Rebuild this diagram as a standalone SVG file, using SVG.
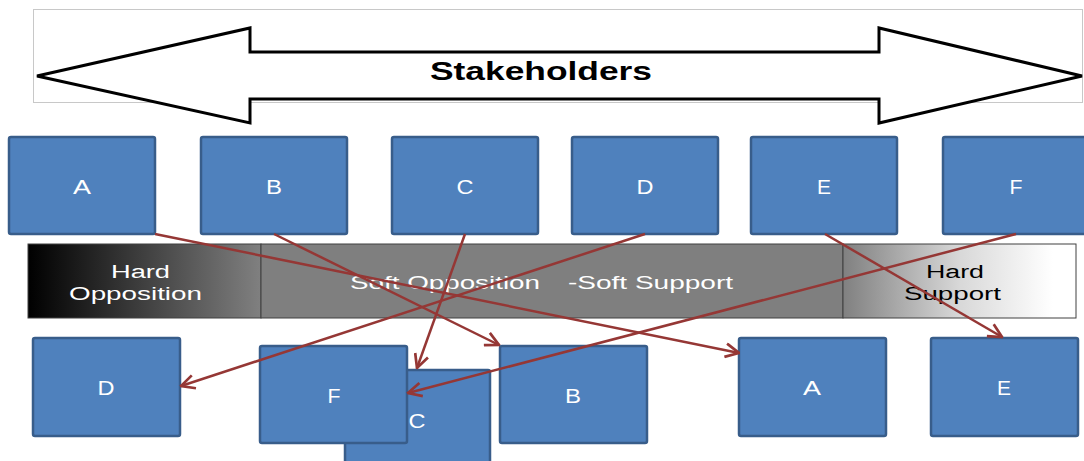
<svg xmlns="http://www.w3.org/2000/svg" width="1084" height="461" viewBox="0 0 1084 461">
<style>
.box{fill:#4f81bd;stroke:#385d8a;stroke-width:2.5}
.lbl{font-family:"Liberation Sans",Arial,sans-serif;font-size:20px;fill:#ffffff;text-anchor:middle}
.bar{font-family:"Liberation Sans",Arial,sans-serif;font-size:18px}
.conn{stroke:#953735;stroke-width:2.5;fill:none;marker-end:url(#ah)}
</style>
<defs>
<linearGradient id="gL" x1="0" y1="0" x2="1" y2="0">
<stop offset="0" stop-color="#000000"/><stop offset="1" stop-color="#808080"/>
</linearGradient>
<linearGradient id="gR" x1="0" y1="0" x2="1" y2="0">
<stop offset="0" stop-color="#808080"/><stop offset="0.5" stop-color="#d8d8d8"/><stop offset="0.9" stop-color="#ffffff"/><stop offset="1" stop-color="#ffffff"/>
</linearGradient>
<marker id="ah" viewBox="0 0 12 12" refX="11" refY="6" markerWidth="6.5" markerHeight="6.5" markerUnits="strokeWidth" orient="auto">
<path d="M1,1 L11,6 L1,11" fill="none" stroke="#953735" stroke-width="2"/>
</marker>
</defs>
<rect width="1084" height="461" fill="#ffffff"/>
<g id="stakeholders">
<rect x="33.5" y="9.5" width="1049" height="93" fill="none" stroke="#c8c8c8" stroke-width="1"/>
<polygon points="37,76 250,28 250,52 879,52 879,28 1082,76 879,123 879,99 250,99 250,123" fill="#ffffff" stroke="#000000" stroke-width="3" stroke-linejoin="miter"/>
<text x="541" y="80" font-family="Liberation Sans,Arial,sans-serif" font-size="25" font-weight="bold" text-anchor="middle" textLength="222" lengthAdjust="spacingAndGlyphs">Stakeholders</text>
</g>
<g id="scale">
<rect x="28" y="244" width="233" height="74" fill="url(#gL)" stroke="#404040" stroke-width="1"/>
<rect x="261" y="244" width="582" height="74" fill="#7f7f7f" stroke="#404040" stroke-width="1"/>
<rect x="843" y="244" width="233" height="74" fill="url(#gR)" stroke="#404040" stroke-width="1"/>
<text class="bar" x="140.5" y="278" fill="#ffffff" text-anchor="middle" textLength="59" lengthAdjust="spacingAndGlyphs">Hard</text>
<text class="bar" x="135.5" y="300" fill="#ffffff" text-anchor="middle" textLength="133" lengthAdjust="spacingAndGlyphs">Opposition</text>
<text class="bar" x="445" y="289" fill="#ffffff" text-anchor="middle" textLength="190" lengthAdjust="spacingAndGlyphs">Soft Opposition</text>
<text class="bar" x="650.5" y="289" fill="#ffffff" text-anchor="middle" textLength="165" lengthAdjust="spacingAndGlyphs">-Soft Support</text>
<text class="bar" x="955" y="278" fill="#000000" text-anchor="middle" textLength="58" lengthAdjust="spacingAndGlyphs">Hard</text>
<text class="bar" x="952.5" y="300" fill="#000000" text-anchor="middle" textLength="97" lengthAdjust="spacingAndGlyphs">Support</text>
</g>
<g id="top-A"><rect class="box" x="9" y="137" width="146" height="97" rx="2"/><text class="lbl" x="82" y="194" textLength="18" lengthAdjust="spacingAndGlyphs">A</text></g>
<g id="top-B"><rect class="box" x="201" y="137" width="146" height="97" rx="2"/><text class="lbl" x="274" y="194" textLength="16" lengthAdjust="spacingAndGlyphs">B</text></g>
<g id="top-C"><rect class="box" x="392" y="137" width="146" height="97" rx="2"/><text class="lbl" x="465" y="194" textLength="17" lengthAdjust="spacingAndGlyphs">C</text></g>
<g id="top-D"><rect class="box" x="572" y="137" width="146" height="97" rx="2"/><text class="lbl" x="645" y="194" textLength="17" lengthAdjust="spacingAndGlyphs">D</text></g>
<g id="top-E"><rect class="box" x="751" y="137" width="146" height="97" rx="2"/><text class="lbl" x="824" y="194" textLength="14" lengthAdjust="spacingAndGlyphs">E</text></g>
<g id="top-F"><rect class="box" x="943" y="137" width="146" height="97" rx="2"/><text class="lbl" x="1016" y="194" textLength="13" lengthAdjust="spacingAndGlyphs">F</text></g>
<g id="bot-D"><rect class="box" x="33" y="338" width="147" height="98" rx="2"/><text class="lbl" x="106" y="395" textLength="17" lengthAdjust="spacingAndGlyphs">D</text></g>
<g id="bot-C"><rect class="box" x="345" y="370" width="145" height="100" rx="2"/><text class="lbl" x="417" y="428" textLength="17" lengthAdjust="spacingAndGlyphs">C</text></g>
<g id="bot-F"><rect class="box" x="260" y="346" width="147" height="97" rx="2"/><text class="lbl" x="334" y="403" textLength="13" lengthAdjust="spacingAndGlyphs">F</text></g>
<g id="bot-B"><rect class="box" x="500" y="346" width="147" height="97" rx="2"/><text class="lbl" x="573" y="403" textLength="16" lengthAdjust="spacingAndGlyphs">B</text></g>
<g id="bot-A"><rect class="box" x="739" y="338" width="147" height="98" rx="2"/><text class="lbl" x="812" y="395" textLength="18" lengthAdjust="spacingAndGlyphs">A</text></g>
<g id="bot-E"><rect class="box" x="931" y="338" width="147" height="98" rx="2"/><text class="lbl" x="1004" y="395" textLength="14" lengthAdjust="spacingAndGlyphs">E</text></g>
<g id="connectors">
<line class="conn" x1="155" y1="234" x2="739" y2="353"/>
<line class="conn" x1="274" y1="234" x2="499" y2="345"/>
<line class="conn" x1="465" y1="234" x2="417" y2="368"/>
<line class="conn" x1="645" y1="234" x2="181" y2="386"/>
<line class="conn" x1="825" y1="234" x2="1002" y2="337"/>
<line class="conn" x1="1016" y1="234" x2="408" y2="393"/>
</g>
</svg>
